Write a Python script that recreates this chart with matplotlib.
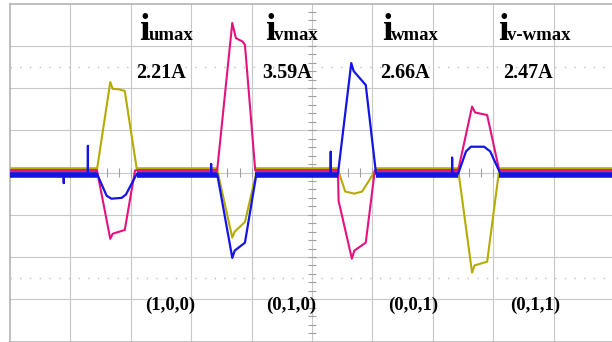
import numpy as np
import matplotlib.pyplot as plt
from matplotlib.collections import LineCollection

# scope traces, in screen divisions (x: 0..10, y: -4..4)
baseline_u = 0.07
baseline_v = 0.05
baseline_w = -0.03

pulse_start = [1.44, 3.43, 5.43, 7.42]
pulse_end = [2.10, 4.06, 6.06, 8.10]

u_t = [0, 1.44, 1.66, 1.70, 1.80, 1.90, 2.10,
       3.43, 3.68, 3.72, 3.89, 4.09,
       5.43, 5.55, 5.70, 5.83, 6.06,
       7.42, 7.65, 7.69, 7.90, 8.10, 10]
u_y = [baseline_u, baseline_u, 2.14, 1.98, 1.97, 1.93, baseline_u,
       baseline_u, -1.54, -1.40, -1.17, baseline_u,
       baseline_u, -0.45, -0.50, -0.45, baseline_u,
       baseline_u, -2.37, -2.20, -2.11, baseline_u, baseline_u]

v_t = [0, 1.44, 1.66, 1.70, 1.90, 2.07,
       3.43, 3.68, 3.74, 3.85, 3.89, 4.06,
       5.43, 5.44, 5.66, 5.70, 5.89, 6.04,
       7.42, 7.65, 7.70, 7.90, 8.10, 10]
v_y = [baseline_v, baseline_v, -1.57, -1.45, -1.36, baseline_v,
       baseline_v, 3.54, 3.18, 3.10, 3.02, baseline_v,
       baseline_v, -0.67, -2.04, -1.85, -1.66, baseline_v,
       baseline_v, 1.56, 1.42, 1.36, baseline_v, baseline_v]

w_t = [0, 0.89, 0.89, 0.89, 1.29, 1.29, 1.29,
       1.44, 1.60, 1.68, 1.85, 1.92, 2.10,
       3.33, 3.33, 3.33, 3.43, 3.68, 3.72, 3.89, 4.08,
       5.31, 5.31, 5.31, 5.43, 5.65, 5.69, 5.89, 6.06,
       7.32, 7.32, 7.32, 7.42, 7.55, 7.63, 7.85, 7.95, 8.12, 10]
w_y = [baseline_w, baseline_w, -0.25, baseline_w, baseline_w, 0.63, baseline_w,
       baseline_w, -0.55, -0.62, -0.60, -0.52, baseline_w,
       baseline_w, 0.20, baseline_w, baseline_w, -2.02, -1.85, -1.66, baseline_w,
       baseline_w, 0.49, baseline_w, baseline_w, 2.59, 2.40, 2.07, baseline_w,
       baseline_w, 0.35, baseline_w, baseline_w, 0.50, 0.61, 0.61, 0.50, baseline_w, baseline_w]

peak_names = ['umax', 'vmax', 'wmax', 'v-wmax']
peak_values = ['2.21A', '3.59A', '2.66A', '2.47A']
states = ['(1,0,0)', '(0,1,0)', '(0,0,1)', '(0,1,1)']

label_x = [2.14, 4.22, 6.16, 8.08]
value_x = [2.50, 4.58, 6.54, 8.58]
state_x = [2.65, 4.65, 6.68, 8.70]

c_u = '#b4ac00'
c_v = '#e5127e'
c_w = '#1414e6'
grid_c = '#c8c8c8'

fig = plt.figure(figsize=(6.12, 3.42), dpi=100)
ax = fig.add_axes([10/612, 0.5/342, 604/612, 338/342])
ax.set_xlim(0, 10)
ax.set_ylim(-4, 4)
ax.set_xticks([])
ax.set_yticks([])
for s in ax.spines.values():
    s.set_color('#b4b4b4')
    s.set_linewidth(1.2)

# graticule
for gx in range(1, 10):
    ax.axvline(gx, color=grid_c, lw=0.8, zorder=0)
for gy in range(-3, 4):
    ax.axhline(gy, color=grid_c, lw=0.8, zorder=0)
for gy in (-2.5, 2.5):
    ax.axhline(gy, color='#c0c0c0', lw=1.0, ls=(0, (1, 6)), zorder=0)
tk = np.arange(-4, 4.01, 0.2)
ax.add_collection(LineCollection([[(4.93, y), (5.07, y)] for y in tk], colors='#a0a0a0', lw=0.8, zorder=0))
tk = np.arange(0, 10.01, 0.2)
ax.add_collection(LineCollection([[(x, -0.1), (x, 0.1)] for x in tk], colors='#a0a0a0', lw=0.8, zorder=0))

# traces
ax.plot(u_t, u_y, color=c_u, lw=1.5, zorder=2)
ax.plot(v_t, v_y, color=c_v, lw=1.5, zorder=3)
ax.plot(w_t, w_y, color=c_w, lw=1.6, zorder=4)

# noisy band along the baseline between pulses
seg_a = [0] + pulse_end
seg_b = pulse_start + [10]
n = len(seg_a)
ax.hlines([baseline_u] * n, seg_a, seg_b, color=c_u, lw=4, zorder=2)
ax.hlines([baseline_v] * n, seg_a, seg_b, color=c_v, lw=2, zorder=3)
ax.hlines([baseline_w - 0.02] * n, seg_a, seg_b, color=c_w, lw=4, zorder=4)

font = 'Liberation Serif'
for i in range(4):
    ax.text(label_x[i], 3.14, 'i', fontsize=27, fontweight='bold', family=font,
            va='baseline', ha='left', zorder=5)
    ax.text(label_x[i] + 0.15, 3.14, peak_names[i], fontsize=13.5, fontweight='bold',
            family=font, va='baseline', ha='left', zorder=5)
    ax.text(value_x[i], 2.24, peak_values[i], fontsize=14.5, fontweight='bold',
            family=font, va='baseline', ha='center', zorder=5)
    ax.text(state_x[i], -3.15, states[i], fontsize=13.5, fontweight='bold',
            family=font, va='center', ha='center', zorder=5)

fig.savefig('out.png', dpi=100)
